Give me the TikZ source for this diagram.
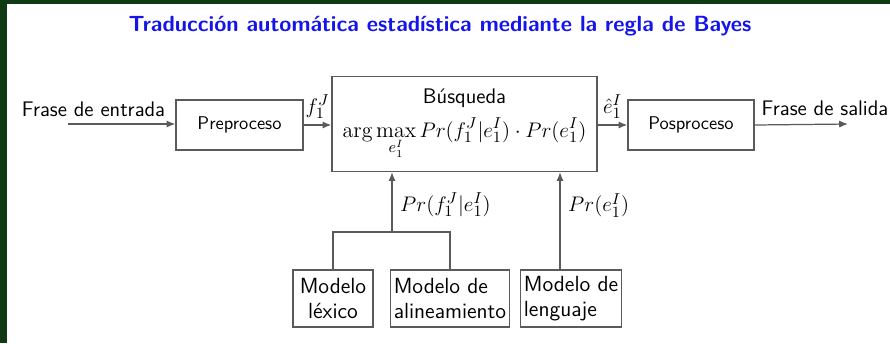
\documentclass[tikz,border=0pt]{standalone}
\usepackage{fontspec}
\usetikzlibrary{arrows.meta}
\definecolor{marco}{RGB}{16,58,20}
\definecolor{linea}{RGB}{90,90,90}
\definecolor{azul}{RGB}{20,20,235}

\begin{document}
\begin{tikzpicture}[x=0.02cm,y=-0.02cm,>={Latex[length=5pt,width=4pt]},
                    font=\sffamily\fontsize{12}{14}\selectfont,
                    caja/.style={draw=linea,line width=0.7pt,inner sep=2pt},
                    flecha/.style={draw=linea,line width=0.7pt},
                    mate/.style={font=\fontsize{13}{15}\selectfont},
                    titulo/.style={text=azul,font=\sffamily\bfseries\fontsize{12.5}{15}\selectfont}]
                    \useasboundingbox (0,0) rectangle (890,343);
                    \fill[marco] (0,0) rectangle (890,343);
                    \fill[white] (7,4) rectangle (890,343);
                    \node (titulo) at (440,26) [titulo]{Traducción automática estadística mediante la regla de Bayes};
                    % cadena principal
                    \node (pre) at (239.5,125) [caja,minimum width=2.54cm,minimum height=1cm,font=\sffamily\fontsize{10.5}{12}\selectfont]{Preproceso};
                    \node (busq) at (464.5,124) [caja,minimum width=5.3cm,minimum height=1.9cm,align=center]
                      {Búsqueda\\[5pt]
                       {\fontsize{12.5}{15}\selectfont$\displaystyle\arg\max_{e_1^I} Pr(f_1^J|e_1^I)\cdot Pr(e_1^I)$}};
                    \node (pos) at (691,125) [caja,minimum width=2.52cm,minimum height=1cm,font=\sffamily\fontsize{10.5}{12}\selectfont]{Posproceso};
                    \node (entrada) at (93.5,109) {Frase de entrada};
                    \node (salida) at (825,108) {Frase de salida};
                    \coordinate (ini) at (68,124);
                    \coordinate (fin) at (848,124);
                    \draw[flecha,->] (ini) -- (ini -| pre.west);
                    \draw[flecha,->] (pre.east) -- node[above=0pt,mate]{$f_1^J$} (pre.east -| busq.west);
                    \draw[flecha,->] (busq.east |- pos.west) -- node[above=0pt,mate]{$\hat{e}_1^I$} (pos.west);
                    \draw[flecha,->] (pos.east) -- (fin);
                    % modelos
                    \foreach \n/\x/\w/\al/\txt in {lex/333/1.6cm/center/{Modelo\\léxico},
                                                   ali/450/2.32cm/left/{Modelo de\\alineamiento},
                                                   len/571/1.96cm/left/{Modelo de\\lenguaje}}{
                      \node (\n) at (\x,298.5) [caja,minimum width=\w,minimum height=1.14cm,align=\al,
                                                font=\sffamily\fontsize{12.5}{14}\selectfont]{\txt};
                    }
                    \coordinate (union) at (392,232);
                    \draw[flecha] (lex.north) |- (union) -| (ali.north);
                    \draw[flecha,->] (union) -- node[right=1pt,pos=0.45,mate]{$Pr(f_1^J|e_1^I)$} (union |- busq.south);
                    \draw[flecha,->] ([xshift=-0.22cm]len.north) -- node[right=1pt,pos=0.66,mate]{$Pr(e_1^I)$} ([xshift=-0.22cm]len.north |- busq.south);
\end{tikzpicture}
\end{document}
